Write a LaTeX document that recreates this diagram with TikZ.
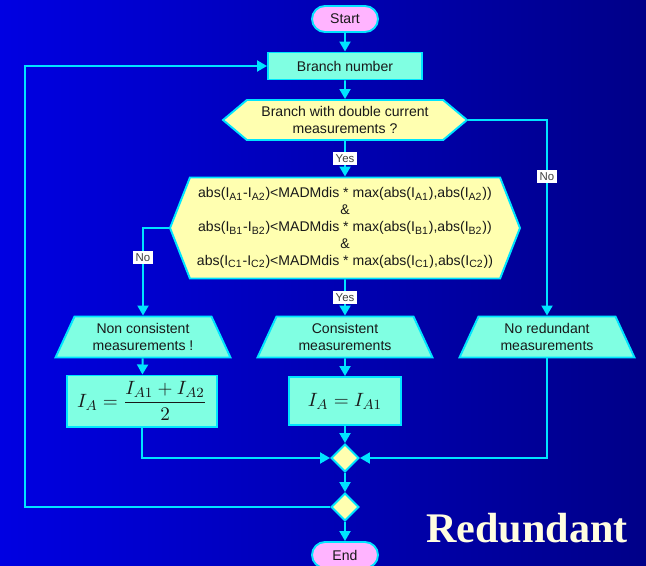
\documentclass[tikz,border=0pt]{standalone}
\usepackage{fontspec}
\setmainfont{Liberation Sans}
\newfontfamily\titlefont{Liberation Serif}
\usetikzlibrary{arrows.meta,shapes.geometric,shapes.symbols}

\definecolor{bgleft}{RGB}{0,0,226}
\definecolor{bgright}{RGB}{0,0,136}
\definecolor{linecyan}{RGB}{0,228,255}
\definecolor{aqua}{RGB}{128,255,226}
\definecolor{paleyellow}{RGB}{255,255,176}
\definecolor{pillpink}{RGB}{255,180,255}
\definecolor{cream}{RGB}{255,253,224}
\definecolor{inktext}{RGB}{25,25,25}

\newcommand{\cur}[1]{I\textsubscript{#1}}

\tikzset{
  box/.style={draw=linecyan, line width=1.1pt, text=inktext, font=\fontsize{8}{9.6}\selectfont, align=center},
  pill/.style={box, fill=pillpink, rounded corners=0.26cm, minimum width=1.32cm, minimum height=0.52cm},
  stepbox/.style={box, fill=aqua},
  hexa/.style={box, fill=paleyellow, shape=signal, signal to=west and east},
  trap/.style={box, fill=aqua, trapezium, trapezium left angle=64, trapezium right angle=64,
    trapezium stretches body, minimum width=3.5cm, minimum height=0.82cm},
  joint/.style={box, fill=paleyellow, diamond, minimum width=0.56cm, minimum height=0.56cm, inner sep=0pt},
  link/.style={draw=linecyan, line width=1.1pt, -{Triangle[length=0.2cm,width=0.22cm]}},
  yesno/.style={fill=white, text=black!75, font=\fontsize{6.5}{7}\selectfont, inner sep=1.3pt},
}

\begin{document}
\begin{tikzpicture}[x=0.02cm, y=-0.02cm]
\shade[left color=bgleft, right color=bgright] (0,0) rectangle (646,565);
\useasboundingbox (0,0) rectangle (646,565);

\node[pill] (start) at (345,19) {Start};
\node[stepbox, minimum width=3.08cm, minimum height=0.54cm] (branch) at (345,66) {Branch number};
\node[hexa, minimum width=4.88cm, minimum height=0.8cm, signal pointer angle=80] (dbl) at (345,120)
  {Branch with double current\\measurements ?};
\node[hexa, minimum width=7cm, minimum height=2.02cm, signal pointer angle=137] (cond) at (345,228)
  {abs(\cur{A1}-\cur{A2})<MADMdis * max(abs(\cur{A1}),abs(\cur{A2}))\\\&\\
   abs(\cur{B1}-\cur{B2})<MADMdis * max(abs(\cur{B1}),abs(\cur{B2}))\\\&\\
   abs(\cur{C1}-\cur{C2})<MADMdis * max(abs(\cur{C1}),abs(\cur{C2}))};
\node[trap] (noncons) at (143,337) {Non consistent\\measurements !};
\node[trap] (cons) at (345,337) {Consistent\\measurements};
\node[trap] (nored) at (547,337) {No redundant\\measurements};
\node[stepbox, minimum width=3cm, minimum height=0.96cm, font=\fontsize{11}{13}\selectfont] (mean) at (142,401)
  {$\displaystyle I_A=\frac{I_{A1}+I_{A2}}{2}$};
\node[stepbox, minimum width=2.24cm, minimum height=0.96cm, font=\fontsize{11}{13}\selectfont] (copy) at (345,401)
  {$I_A=I_{A1}$};
\node[joint] (merge) at (345,458) {};
\node[joint] (check) at (345,507) {};
\node[pill] (end) at (345,555) {End};
\coordinate (loop) at (25,507);
\node[font=\titlefont\bfseries\fontsize{24}{28}\selectfont, text=cream, anchor=base] (title) at (527,542) {Redundant};

% flow
\draw[link] (start) -- (branch);
\draw[link] (branch) -- (dbl);
\draw[link] (dbl) -- node[yesno] {Yes} (cond);
\draw[link] (cond) -- node[yesno] {Yes} (cons);
\draw[link] (cond.west) -| node[yesno, pos=0.67] {No} (noncons.north);
\draw[link] (dbl.east) -| node[yesno, pos=0.645] {No} (nored.north);
\draw[link] (noncons) -- (mean);
\draw[link] (cons) -- (copy);
\draw[link] (mean.south) |- (merge.west);
\draw[link] (copy) -- (merge);
\draw[link] (nored.south) |- (merge.east);
\draw[link] (merge) -- (check);
\draw[link] (check) -- (end);
\draw[link] (check.west) -- (loop) |- (branch.west);

\end{tikzpicture}
\end{document}
